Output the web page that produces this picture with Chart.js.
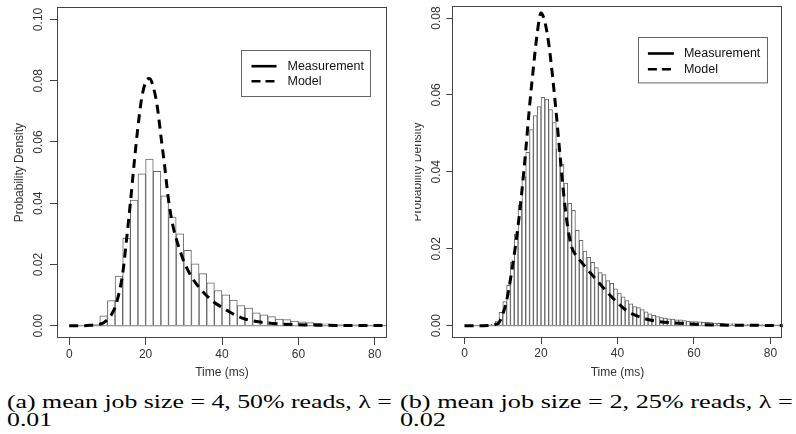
<!DOCTYPE html>
<html>
<head>
<meta charset="utf-8">
<script src="https://cdn.jsdelivr.net/npm/chart.js@4.4.0/dist/chart.umd.min.js"></script>
<style>
body { margin: 0; background: #fff; width: 796px; height: 434px; overflow: hidden; position: relative; }
.panel { position: absolute; top: 0; height: 380px; }
#pa { left: 0; width: 398px; }
#pb { left: 415px; width: 381px; }
.cap { position: absolute; top: 393px; font-family: "Liberation Serif", serif; font-size: 19.5px; line-height: 18px; white-space: nowrap; transform-origin: 0 0; color: #000; }
#capA { left: 7px; }
#capB { left: 400px; }
</style>
</head>
<body>
<div class="panel" id="pa"><canvas id="chartA"></canvas></div>
<div class="panel" id="pb"><canvas id="chartB"></canvas></div>
<div class="cap" id="capA"><span class="l1">(a) mean job size = 4, 50% reads, λ =</span><br>0.01</div>
<div class="cap" id="capB"><span class="l1">(b) mean job size = 2, 25% reads, λ =</span><br>0.02</div>
<script>
// ---- data: panel (a), 2 ms bins ----
var binMidsA = [1, 3, 5, 7, 9, 11, 13, 15, 17, 19, 21, 23, 25, 27, 29, 31, 33, 35, 37, 39, 41,
  43, 45, 47, 49, 51, 53, 55, 57, 59, 61, 63, 65, 67, 69, 71, 73, 75, 77, 79, 81, 83];
var densA = [0, 0, 0.0001, 0.0005, 0.0032, 0.0082, 0.0162, 0.0286, 0.041, 0.0496, 0.0544,
  0.0504, 0.0424, 0.0355, 0.030, 0.0246, 0.0202, 0.017, 0.014, 0.0115, 0.0101,
  0.0084, 0.0066, 0.0058, 0.0042, 0.0036, 0.003, 0.0022, 0.002, 0.0015, 0.0013,
  0.001, 0.0008, 0.0006, 0.0005, 0.0004, 0.0003, 0.0003, 0.0002, 0.0002, 0.0002, 0.0001];
var modelTimeA = [0, 4, 6, 8, 9, 10, 11, 12, 13, 14, 15, 16, 17, 18, 19, 20, 21, 22, 23, 24, 25,
  26, 27, 28, 29, 30, 32, 34, 36, 38, 40, 42, 44, 46, 48, 50, 52, 55, 60, 65, 70, 80, 84];
var modelDensA = [0, 0, 0.0002, 0.0005, 0.001, 0.002, 0.0035, 0.006, 0.0105, 0.017, 0.028,
  0.04, 0.053, 0.065, 0.0745, 0.0795, 0.0807, 0.078, 0.072, 0.062, 0.052,
  0.041, 0.0335, 0.0285, 0.0245, 0.021, 0.016, 0.0125, 0.0098, 0.0076, 0.006,
  0.0045, 0.0032, 0.0022, 0.0016, 0.0012, 0.0009, 0.0006, 0.0003, 0.0002, 0.0001, 0.0001, 0];

// ---- data: panel (b), 1 ms bins ----
var binMidsB = [0.5, 1.5, 2.5, 3.5, 4.5, 5.5, 6.5, 7.5, 8.5, 9.5, 10.5, 11.5, 12.5, 13.5, 14.5,
  15.5, 16.5, 17.5, 18.5, 19.5, 20.5, 21.5, 22.5, 23.5, 24.5, 25.5, 26.5, 27.5, 28.5, 29.5,
  30.5, 31.5, 32.5, 33.5, 34.5, 35.5, 36.5, 37.5, 38.5, 39.5, 40.5, 41.5, 42.5, 43.5, 44.5,
  45.5, 46.5, 47.5, 48.5, 49.5, 50.5, 51.5, 52.5, 53.5, 54.5, 55.5, 56.5, 57.5, 58.5, 59.5,
  60.5, 61.5, 62.5, 63.5, 64.5, 65.5, 66.5, 67.5, 68.5, 69.5, 70.5, 71.5, 72.5, 73.5, 74.5,
  75.5, 76.5, 77.5, 78.5, 79.5, 80.5, 81.5, 82.5];
var densB = [0, 0, 0, 0, 0, 0.0001, 0.0002, 0.0004, 0.0012, 0.0035, 0.0063, 0.0105, 0.0165,
  0.0238, 0.0313, 0.0388, 0.0451, 0.051, 0.0546, 0.057, 0.0594, 0.0589, 0.0562, 0.0528,
  0.046, 0.042, 0.0371, 0.0318, 0.030, 0.0248, 0.0222, 0.0194, 0.0178, 0.0165, 0.0151,
  0.0138, 0.0133, 0.0117, 0.011, 0.0096, 0.0085, 0.0075, 0.0065, 0.0057, 0.005, 0.0047,
  0.0042, 0.0036, 0.0031, 0.0027, 0.0024, 0.0021, 0.002, 0.0018, 0.0017, 0.0015, 0.0015,
  0.0013, 0.0012, 0.0011, 0.0011, 0.001, 0.0009, 0.0009, 0.0008, 0.0007, 0.0006, 0.0006,
  0.0005, 0.0005, 0.0005, 0.0004, 0.0004, 0.0004, 0.0003, 0.0003, 0.0003, 0.0003, 0.0002,
  0.0002, 0.0002, 0.0002, 0.0002];
var modelTimeB = [0, 5, 7, 8, 9, 10, 11, 12, 13, 14, 15, 16, 17, 18, 19, 20, 21, 22, 23, 24, 25,
  26, 27, 28, 29, 30, 32, 34, 36, 38, 40, 42, 44, 46, 48, 50, 55, 60, 65, 70, 75, 84];
var modelDensB = [0, 0, 0.0001, 0.0003, 0.0008, 0.003, 0.0065, 0.012, 0.0185, 0.026, 0.035,
  0.0455, 0.057, 0.067, 0.076, 0.0813, 0.079, 0.0735, 0.065, 0.055, 0.044,
  0.0335, 0.0255, 0.0205, 0.0185, 0.0172, 0.0148, 0.0125, 0.0102, 0.008, 0.006,
  0.0042, 0.003, 0.0022, 0.0016, 0.0012, 0.0007, 0.0004, 0.0002, 0.0001, 0.0001, 0];

var xTicks = [0, 20, 40, 60, 80];
var yTicksA = [0, 0.02, 0.04, 0.06, 0.08, 0.10];
var yTicksB = [0, 0.02, 0.04, 0.06, 0.08];
var seriesNames = ['Measurement', 'Model'];

var FONT = 'Liberation Sans';
var INK = '#333';

// frame round the plot region, like R's box()
var boxPlugin = {
  id: 'rBox',
  afterDatasetsDraw: function (chart) {
    var a = chart.chartArea, c = chart.ctx;
    c.save();
    c.strokeStyle = '#444';
    c.lineWidth = 1;
    c.strokeRect(Math.round(a.left) + 0.5, Math.round(a.top) + 0.5,
      Math.round(a.right - a.left) - 1, Math.round(a.bottom - a.top) - 1);
    c.restore();
  }
};

// R-style legend box inside the plot
var legendPlugin = {
  id: 'rLegend',
  afterDraw: function (chart, args, opts) {
    var a = chart.chartArea, c = chart.ctx;
    var bx = Math.round(a.right - opts.right - opts.w) + 0.5;
    var by = Math.round(a.top + opts.top) + 0.5;
    c.save();
    c.fillStyle = '#fff';
    c.fillRect(bx, by, opts.w, opts.h);
    c.strokeStyle = '#666';
    c.lineWidth = 1;
    c.strokeRect(bx, by, opts.w, opts.h);
    c.font = '12.5px "' + FONT + '"';
    c.textBaseline = 'middle';
    c.fillStyle = '#111';
    for (var i = 0; i < seriesNames.length; i++) {
      var y = by + opts.row0 + i * opts.rowGap;
      c.beginPath();
      c.strokeStyle = '#000';
      c.lineWidth = 2.6;
      c.setLineDash(i === 1 ? [9, 5] : []);
      c.moveTo(bx + opts.lx0, y);
      c.lineTo(bx + opts.lx1, y);
      c.stroke();
      c.setLineDash([]);
      c.fillText(seriesNames[i], bx + opts.tx, y);
    }
    c.restore();
  }
};

function makeChart(id, p) {
  var bars = p.mids.map(function (m, i) { return { x: m, y: p.dens[i] }; });
  var curve = p.mt.map(function (t, i) { return { x: t, y: p.md[i] }; });
  return new Chart(document.getElementById(id), {
    type: 'bar',
    data: {
      datasets: [
        {
          type: 'line', label: 'Model', data: curve, order: 0,
          borderColor: '#000', borderWidth: 3, borderDash: [9, 6], borderCapStyle: 'butt',
          cubicInterpolationMode: 'monotone', pointRadius: 0, fill: false
        },
        {
          type: 'line', label: 'base', data: [{ x: 0, y: 0 }, { x: 84, y: 0 }], order: 1,
          borderColor: '#777', borderWidth: 1, pointRadius: 0, fill: false
        },
        {
          type: 'bar', label: 'Measurement', data: bars, order: 2,
          backgroundColor: '#fff', borderColor: '#666', borderWidth: 1,
          barPercentage: 1, categoryPercentage: 1
        }
      ]
    },
    options: {
      responsive: true,
      maintainAspectRatio: false,
      animation: false,
      layout: { padding: { left: 0, top: p.padTop, right: p.padRight, bottom: 0 } },
      plugins: {
        legend: { display: false },
        tooltip: { enabled: false },
        rLegend: p.legend
      },
      scales: {
        x: {
          type: 'linear', min: -3.2, max: 83.2, offset: false,
          afterBuildTicks: function (s) { s.ticks = xTicks.map(function (v) { return { value: v }; }); },
          afterFit: function (s) { s.height = 42; },
          grid: { offset: false, drawOnChartArea: false, drawTicks: true, tickLength: p.tick, tickColor: '#444' },
          border: { display: false },
          ticks: {
            padding: 2, maxRotation: 0, autoSkip: false, color: INK,
            font: { family: FONT, size: 12 },
            callback: function (v) { return String(v); }
          },
          title: {
            display: true, text: 'Time (ms)', color: INK,
            font: { family: FONT, size: 12 }, padding: { top: 0, bottom: 0 }
          }
        },
        y: {
          type: 'linear', min: p.yMin, max: p.yMax,
          afterBuildTicks: function (s) { s.ticks = p.yTicks.map(function (v) { return { value: v }; }); },
          afterFit: function (s) { s.width = p.axisW; },
          grid: { drawOnChartArea: false, drawTicks: true, tickLength: p.tick, tickColor: '#444' },
          border: { display: false },
          ticks: {
            minRotation: 90, maxRotation: 90, crossAlign: 'center', padding: p.tickPad,
            autoSkip: false, color: INK, font: { family: FONT, size: 12 },
            callback: function (v) { return v.toFixed(2); }
          },
          title: {
            display: true, text: 'Probability Density', color: INK,
            font: { family: FONT, size: 12 }, padding: { top: p.titlePad, bottom: 0 }
          }
        }
      }
    },
    plugins: [boxPlugin, legendPlugin]
  });
}

makeChart('chartA', {
  mids: binMidsA, dens: densA, mt: modelTimeA, md: modelDensA,
  yMin: -0.004, yMax: 0.104, yTicks: yTicksA,
  padTop: 7, padRight: 11, axisW: 57, tick: 7, tickPad: 0, titlePad: 12,
  legend: { right: 17, top: 43, w: 129, h: 46, row0: 15.7, rowGap: 15, lx0: 10, lx1: 35, tx: 46 }
});

makeChart('chartB', {
  mids: binMidsB, dens: densB, mt: modelTimeB, md: modelDensB,
  yMin: -0.0032, yMax: 0.0832, yTicks: yTicksB,
  padTop: 5.7, padRight: 13.3, axisW: 37.3, tick: 6, tickPad: -2, titlePad: -4.8,
  legend: { right: 16, top: 31.6, w: 129, h: 45.4, row0: 16, rowGap: 15.7, lx0: 9.4, lx1: 35.4, tx: 45.4 }
});

// stretch each caption line to the width it has in the figure
// (offsetWidth ignores the transform, so this can run more than once)
function fitCaption(id, target) {
  var span = document.querySelector('#' + id + ' .l1');
  var w = span.offsetWidth;
  document.getElementById(id).style.transform = 'scaleX(' + (target / w) + ')';
}
function fitAll() {
  fitCaption('capA', 385);
  fitCaption('capB', 393);
}
fitAll();
if (document.fonts && document.fonts.ready) document.fonts.ready.then(fitAll);
</script>
</body>
</html>
